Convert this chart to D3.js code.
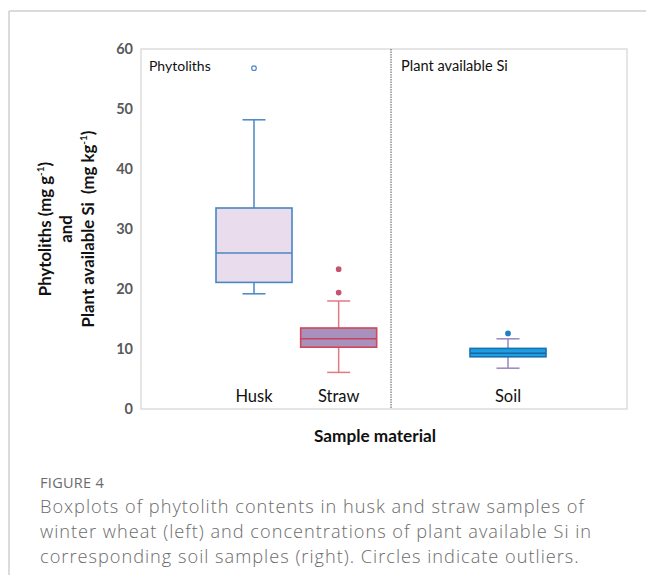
<!DOCTYPE html>
<html>
<head>
<meta charset="utf-8">
<script src="https://cdn.jsdelivr.net/npm/d3@7"></script>
<style>
  html, body { margin: 0; padding: 0; background: #fff; }
  svg { display: block; }
</style>
</head>
<body>
<svg id="chart" width="646" height="575"></svg>
<script>
// ---- data ----
const categories = ["Husk", "Straw", "Soil"];
const q1 = [21.1, 10.3, 8.7];
const median = [26.0, 11.7, 9.3];
const q3 = [33.5, 13.5, 10.1];
const whiskerLow = [19.2, 6.1, 6.8];
const whiskerHigh = [48.2, 18.0, 11.7];
const outliers = [[56.8], [23.3, 19.4], [12.6]];
const yTicks = [0, 10, 20, 30, 40, 50, 60];
const panelLabels = ["Phytoliths", "Plant available Si"];

// ---- styles ----
const styles = [
  { fill: "#e9dded", stroke: "#4a86c2", whisker: "#4a86c2", median: "#4a86c2", outFill: "#ffffff", outStroke: "#4a86c2" },
  { fill: "#a991be", stroke: "#d0465a", whisker: "#e27a84", median: "#c84458", outFill: "#c4546e", outStroke: "#c4546e" },
  { fill: "#1ba1e2", stroke: "#1c6fb0", whisker: "#9a86c0", median: "#1a64a0", outFill: "#1f7fc6", outStroke: "#1f7fc6" }
];

const svg = d3.select("#chart");
const W = 646, H = 575;
const plot = { left: 141, right: 627, top: 49, bottom: 409 };
const FONT = "Lato, 'Open Sans', sans-serif";

// card border
svg.append("line").attr("x1", 9).attr("x2", W).attr("y1", 11).attr("y2", 11)
  .attr("stroke", "#cfcfcf").attr("stroke-width", 1.5);
svg.append("line").attr("x1", 9).attr("x2", 9).attr("y1", 11).attr("y2", H)
  .attr("stroke", "#cfcfcf").attr("stroke-width", 1.5);

const y = d3.scaleLinear().domain([0, 60]).range([plot.bottom, plot.top]);
const x = d3.scalePoint().domain(["Husk", "Straw", "_gap", "Soil"]).range([254, 508]);

// frame
svg.append("rect").attr("x", plot.left).attr("y", plot.top)
  .attr("width", plot.right - plot.left).attr("height", plot.bottom - plot.top)
  .attr("fill", "none").attr("stroke", "#d4d4d4").attr("stroke-width", 1.2);

// divider
svg.append("line").attr("x1", 391).attr("x2", 391).attr("y1", plot.top).attr("y2", plot.bottom)
  .attr("stroke", "#555").attr("stroke-width", 1).attr("stroke-dasharray", "1.5,1");

// y axis
const yAxis = d3.axisLeft(y).tickValues(yTicks).tickSize(0).tickPadding(8);
const gy = svg.append("g").attr("transform", `translate(${plot.left},0)`).call(yAxis);
gy.select(".domain").remove();
gy.selectAll("text").attr("font-family", FONT)
  .attr("font-weight", "bold").attr("font-size", 14.5).attr("fill", "#595959");

// panel labels
svg.append("text").attr("x", 149).attr("y", 71).text(panelLabels[0])
  .attr("font-family", FONT).attr("font-size", 14).attr("fill", "#111");
svg.append("text").attr("x", 401).attr("y", 71).text(panelLabels[1])
  .attr("font-family", FONT).attr("font-size", 14.6).attr("fill", "#111");

// boxes
const boxW = 76, capW = 23;
categories.forEach((c, i) => {
  const cx = x(c), s = styles[i];
  const g = svg.append("g");
  g.append("line").attr("x1", cx).attr("x2", cx).attr("y1", y(q3[i])).attr("y2", y(whiskerHigh[i]))
    .attr("stroke", s.whisker).attr("stroke-width", 1.5);
  g.append("line").attr("x1", cx).attr("x2", cx).attr("y1", y(q1[i])).attr("y2", y(whiskerLow[i]))
    .attr("stroke", s.whisker).attr("stroke-width", 1.5);
  g.append("line").attr("x1", cx - capW / 2).attr("x2", cx + capW / 2).attr("y1", y(whiskerHigh[i])).attr("y2", y(whiskerHigh[i]))
    .attr("stroke", s.whisker).attr("stroke-width", 1.5);
  g.append("line").attr("x1", cx - capW / 2).attr("x2", cx + capW / 2).attr("y1", y(whiskerLow[i])).attr("y2", y(whiskerLow[i]))
    .attr("stroke", s.whisker).attr("stroke-width", 1.5);
  g.append("rect").attr("x", cx - boxW / 2).attr("y", y(q3[i]))
    .attr("width", boxW).attr("height", y(q1[i]) - y(q3[i]))
    .attr("fill", s.fill).attr("stroke", s.stroke).attr("stroke-width", 1.6);
  g.append("line").attr("x1", cx - boxW / 2).attr("x2", cx + boxW / 2).attr("y1", y(median[i])).attr("y2", y(median[i]))
    .attr("stroke", s.median).attr("stroke-width", 1.4);
  g.selectAll("circle").data(outliers[i]).enter().append("circle")
    .attr("cx", cx).attr("cy", d => y(d)).attr("r", 2.3)
    .attr("fill", s.outFill).attr("stroke", s.outStroke).attr("stroke-width", 1.1);
  svg.append("text").attr("x", cx).attr("y", 402).attr("text-anchor", "middle").text(c)
    .attr("font-family", FONT).attr("font-size", 16.5).attr("fill", "#111");
});

// y axis title
const yt = svg.append("text").attr("transform", "translate(0,229) rotate(-90)")
  .attr("text-anchor", "middle").attr("font-family", FONT)
  .attr("font-weight", "bold").attr("font-size", 16.8).attr("fill", "#111");
const l1 = yt.append("tspan").attr("x", 0).attr("y", 51);
l1.append("tspan").text("Phytoliths (mg g");
l1.append("tspan").text("-1").attr("font-size", 10).attr("dy", -7);
l1.append("tspan").text(")").attr("dy", 7);
yt.append("tspan").attr("x", 0).attr("y", 72).text("and");
const l3 = yt.append("tspan").attr("x", 0).attr("y", 94);
l3.append("tspan").text("Plant available Si\u00a0\u00a0(mg kg");
l3.append("tspan").text("-1").attr("font-size", 10).attr("dy", -7);
l3.append("tspan").text(")").attr("dy", 7);

// x axis title
svg.append("text").attr("x", 375).attr("y", 442).attr("text-anchor", "middle").text("Sample material")
  .attr("font-family", FONT).attr("font-weight", "bold")
  .attr("font-size", 17.2).attr("fill", "#111");

// caption
svg.append("text").attr("x", 40).attr("y", 488).text("FIGURE 4")
  .attr("font-family", "'Open Sans', sans-serif").attr("font-size", 14.5)
  .attr("letter-spacing", 0.3).attr("fill", "#6b6b6b");
const captionLines = [
  "Boxplots of phytolith contents in husk and straw samples of",
  "winter wheat (left) and concentrations of plant available Si in",
  "corresponding soil samples (right). Circles indicate outliers."
];
svg.append("g").selectAll("text").data(captionLines).enter().append("text")
  .attr("x", 40).attr("y", (d, i) => 513 + i * 25).text(d => d)
  .attr("font-family", "'Open Sans', sans-serif").attr("font-size", 18.2)
  .attr("letter-spacing", 1.0)
  .attr("font-weight", 300).attr("fill", "#6b6b6b");
</script>
</body>
</html>
